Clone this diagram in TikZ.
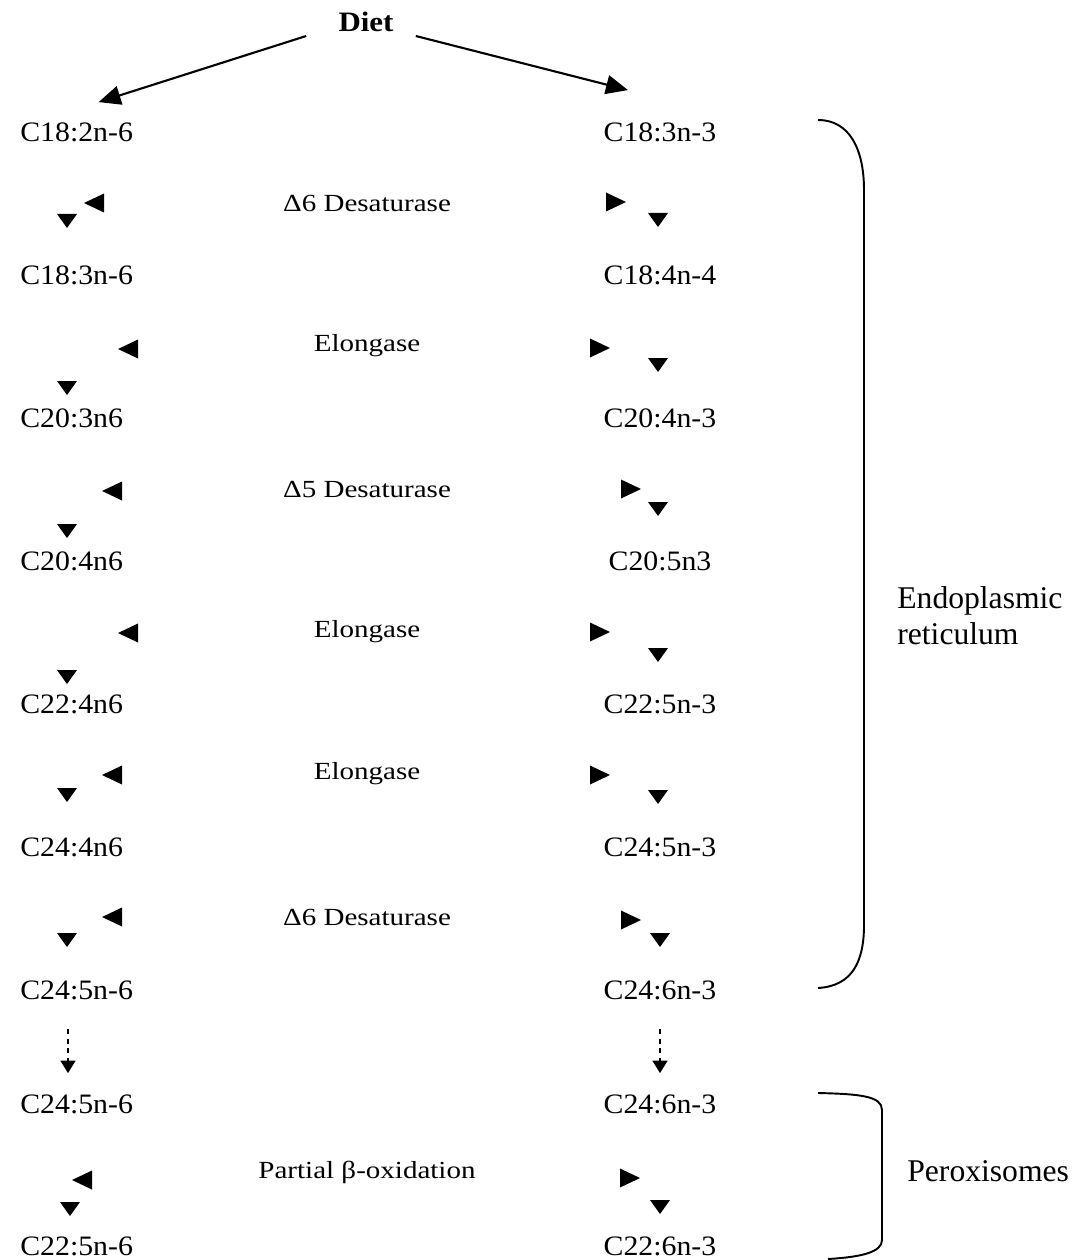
\documentclass[tikz,border=0pt]{standalone}
\usepackage{fontspec}
\setmainfont{Liberation Serif}
\newfontfamily\acidfont[FakeStretch=1.06]{Liberation Serif}
\newfontfamily\enzfont[FakeStretch=1.18]{Liberation Serif}
\newfontfamily\dietfont[FakeStretch=1.1]{Liberation Serif}
\usetikzlibrary{arrows.meta}
\tikzset{
  acid/.style={inner sep=0pt, font=\acidfont\fontsize{16}{19}\selectfont},
  enzyme/.style={inner sep=0pt, font=\enzfont\fontsize{14}{17}\selectfont},
  region/.style={inner sep=0pt, anchor=west, align=left, font=\fontsize{18}{20.5}\selectfont},
  feed/.style={line width=1.2pt, -{Triangle[length=0.44cm,width=0.38cm]}},
  dashtip/.style={line width=0.9pt, dash pattern=on 3pt off 2.5pt, -{Triangle[length=0.25cm,width=0.3cm]}},
  brace/.style={line width=1.1pt},
  tipdown/.pic={\fill (-10,-7) -- (10,-7) -- (0,7) -- cycle;},
  tipleft/.pic={\fill (10,-9.5) -- (10,9.5) -- (-10,0) -- cycle;},
  tipright/.pic={\fill (-10,-9.5) -- (-10,9.5) -- (10,0) -- cycle;}
}
\begin{document}
\begin{tikzpicture}[x=0.02cm, y=-0.02cm]
  \useasboundingbox (0,0) rectangle (1083,1260);
  % source
  \node[inner sep=0pt, font=\dietfont\bfseries\fontsize{16}{19}\selectfont] (diet) at (366,22) {Diet};
  % n-6 and n-3 series
  \foreach \t/\y [count=\i] in {C18:2n-6/132, C18:3n-6/275, C20:3n6/418, C20:4n6/561,
      C22:4n6/704, C24:4n6/847, C24:5n-6/990, C24:5n-6/1104, C22:5n-6/1246}
    \node[acid, anchor=west] (l\i) at (20,\y) {\t};
  \foreach \t/\y [count=\i] in {C18:3n-3/132, C18:4n-4/275, C20:4n-3/418, C20:5n3/561,
      C22:5n-3/704, C24:5n-3/847, C24:6n-3/990, C24:6n-3/1104, C22:6n-3/1246}
    \node[acid] (r\i) at (660,\y) {\t};
  % enzymes
  \foreach \t/\y [count=\i] in {Δ6 Desaturase/203, Elongase/346, Δ5 Desaturase/489,
      Elongase/632, Elongase/774, Δ6 Desaturase/917, Partial β-oxidation/1172}
    \node[enzyme] (e\i) at (367,\y) {\t};
  % arrows from diet
  \draw[feed] ([shift={(-32,14)}]diet.west) -- ([shift={(22,-20)}]l1.north);
  \draw[feed] ([shift={(22,14)}]diet.east) -- ([shift={(-32,-32)}]r1.north);
  % arrow tips
  \foreach \x/\y in {67/221, 67/388, 67/531, 67/677, 67/795, 67/940, 70/1209,
      658/220, 658/365, 658/509, 658/655, 658/797, 660/940, 660/1207}
    \pic at (\x,\y) {tipdown};
  \foreach \x/\y in {94/203, 128/349, 112/491, 128/633, 112/775, 112/917, 82/1180}
    \pic at (\x,\y) {tipleft};
  \foreach \x/\y in {616/202, 600/348, 631/489, 600/632, 600/775, 631/920, 630/1178}
    \pic at (\x,\y) {tipright};
  % transport
  \draw[dashtip] ([shift={(48,29)}]l7.south west) -- ([shift={(48,-21)}]l8.north west);
  \draw[dashtip] ([yshift=-29*0.02cm]r7.south) -- ([yshift=21*0.02cm]r8.north);
  % compartments
  \draw[brace] (818,120) .. controls (850,120) and (864,150) .. (864,190)
    -- (864,925) .. controls (864,962) and (852,986) .. (818,988);
  \node[region] (er) at (897,616) {Endoplasmic\\reticulum};
  \draw[brace] (818,1093) .. controls (860,1094) and (882,1096) .. (882,1110)
    -- (882,1240) .. controls (882,1252) and (862,1257) .. (828,1259);
  \node[region] (px) at (907,1171) {Peroxisomes};
\end{tikzpicture}
\end{document}
